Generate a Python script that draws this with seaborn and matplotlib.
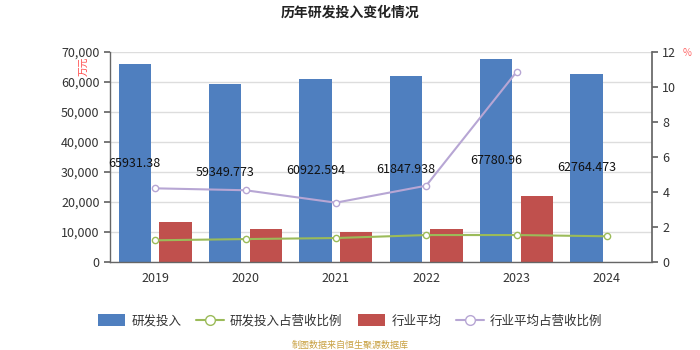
import numpy as np
import pandas as pd
import matplotlib
matplotlib.use("Agg")
import matplotlib.pyplot as plt
from matplotlib.lines import Line2D
from matplotlib.patches import Patch
import seaborn as sns

years = ["2019", "2020", "2021", "2022", "2023", "2024"]
rd_invest = [65931.38, 59349.773, 60922.594, 61847.938, 67780.96, 62764.473]
industry_avg = [13250, 10900, 9900, 11000, 22100, np.nan]
rd_ratio = [1.24, 1.31, 1.37, 1.54, 1.54, 1.47]
industry_ratio = [4.21, 4.10, 3.39, 4.36, 10.86, np.nan]
rd_labels = ["65931.38", "59349.773", "60922.594", "61847.938", "67780.96", "62764.473"]

BLUE = "#4f7fbf"
RED = "#c0504d"
GREEN = "#9bbb59"
PURPLE = "#b7a6d4"

sns.set_theme(style="white")
plt.rcParams["font.family"] = ["Noto Sans CJK SC", "DejaVu Sans"]

fig = plt.figure(figsize=(7, 3.5), dpi=100)
ax = fig.add_axes([110/700, 88/350, 542/700, 210/350])

bars = pd.DataFrame({
    "year": years * 2,
    "value": rd_invest + industry_avg,
    "series": ["研发投入"] * 6 + ["行业平均"] * 6,
})
sns.barplot(data=bars, x="year", y="value", hue="series",
            palette=[BLUE, RED], width=0.9, gap=0.2, ax=ax, legend=False,
            edgecolor="none", saturation=1)

ax.set_ylim(0, 70000)
ax.set_yticks(np.arange(0, 70001, 10000))
ax.set_yticklabels([f"{v:,}" for v in range(0, 70001, 10000)])
ax.set_xlim(-0.5, 5.5)
ax.set_xlabel("")
ax.set_ylabel("")
ax.grid(axis="y", color="#dddddd", linewidth=1)
ax.set_axisbelow(True)
for s in ["top", "right"]:
    ax.spines[s].set_visible(False)
for s in ["left", "bottom"]:
    ax.spines[s].set_color("#666666")
    ax.spines[s].set_linewidth(1)
ax.tick_params(axis="both", labelsize=9, colors="#333333", length=4,
               color="#666666", left=True, bottom=False)

# value labels centred in the blue bars
for i, (v, lab) in enumerate(zip(rd_invest, rd_labels)):
    ax.text(i - 0.225, v / 2, lab, ha="center", va="center",
            fontsize=9, color="#111111")

ax2 = ax.twinx()
lines = pd.DataFrame({"x": np.arange(6), "r1": rd_ratio, "r2": industry_ratio})
sns.lineplot(data=lines, x="x", y="r2", ax=ax2, color=PURPLE, linewidth=1.5,
             marker="o", markersize=4.5, markerfacecolor="white",
             markeredgecolor=PURPLE, markeredgewidth=1)
sns.lineplot(data=lines, x="x", y="r1", ax=ax2, color=GREEN, linewidth=1.5,
             marker="o", markersize=4.5, markerfacecolor="white",
             markeredgecolor=GREEN, markeredgewidth=1)
ax2.set_ylim(0, 12)
ax2.set_yticks(np.arange(0, 13, 2))
ax2.set_xlim(-0.5, 5.5)
ax2.set_xlabel("")
ax2.set_ylabel("")
for s in ["top", "left", "bottom"]:
    ax2.spines[s].set_visible(False)
ax2.spines["right"].set_color("#666666")
ax2.tick_params(axis="y", labelsize=9, colors="#333333", length=4,
                color="#666666", right=True)
ax2.grid(False)

fig.text(0.5, 0.965, "历年研发投入变化情况", ha="center", va="center",
         fontsize=10, fontweight="bold", color="#222222")
fig.text(84/700, 1 - 66/350, "万元", ha="center", va="center", rotation=90,
         fontsize=7, color="#ff4444")
fig.text(687/700, 1 - 53/350, "%", ha="center", va="center",
         fontsize=7, color="#ff6666")

handles = [
    Patch(facecolor=BLUE, edgecolor="none"),
    Line2D([], [], color=GREEN, marker="o", markerfacecolor="white",
           markeredgecolor=GREEN, markersize=7, linewidth=1.5),
    Patch(facecolor=RED, edgecolor="none"),
    Line2D([], [], color=PURPLE, marker="o", markerfacecolor="white",
           markeredgecolor=PURPLE, markersize=7, linewidth=1.5),
]
labels = ["研发投入", "研发投入占营收比例", "行业平均", "行业平均占营收比例"]
fig.legend(handles, labels, loc="center", bbox_to_anchor=(0.5, 1 - 321/350),
           ncol=4, frameon=False, fontsize=9, handlelength=2.2,
           handleheight=1.1, columnspacing=1.2, handletextpad=0.5,
           labelcolor="#333333")

fig.text(0.5, 1 - 345/350, "制图数据来自恒生聚源数据库", ha="center",
         va="center", fontsize=6.5, color="#c8a040")

fig.savefig("out.png", dpi=100)
